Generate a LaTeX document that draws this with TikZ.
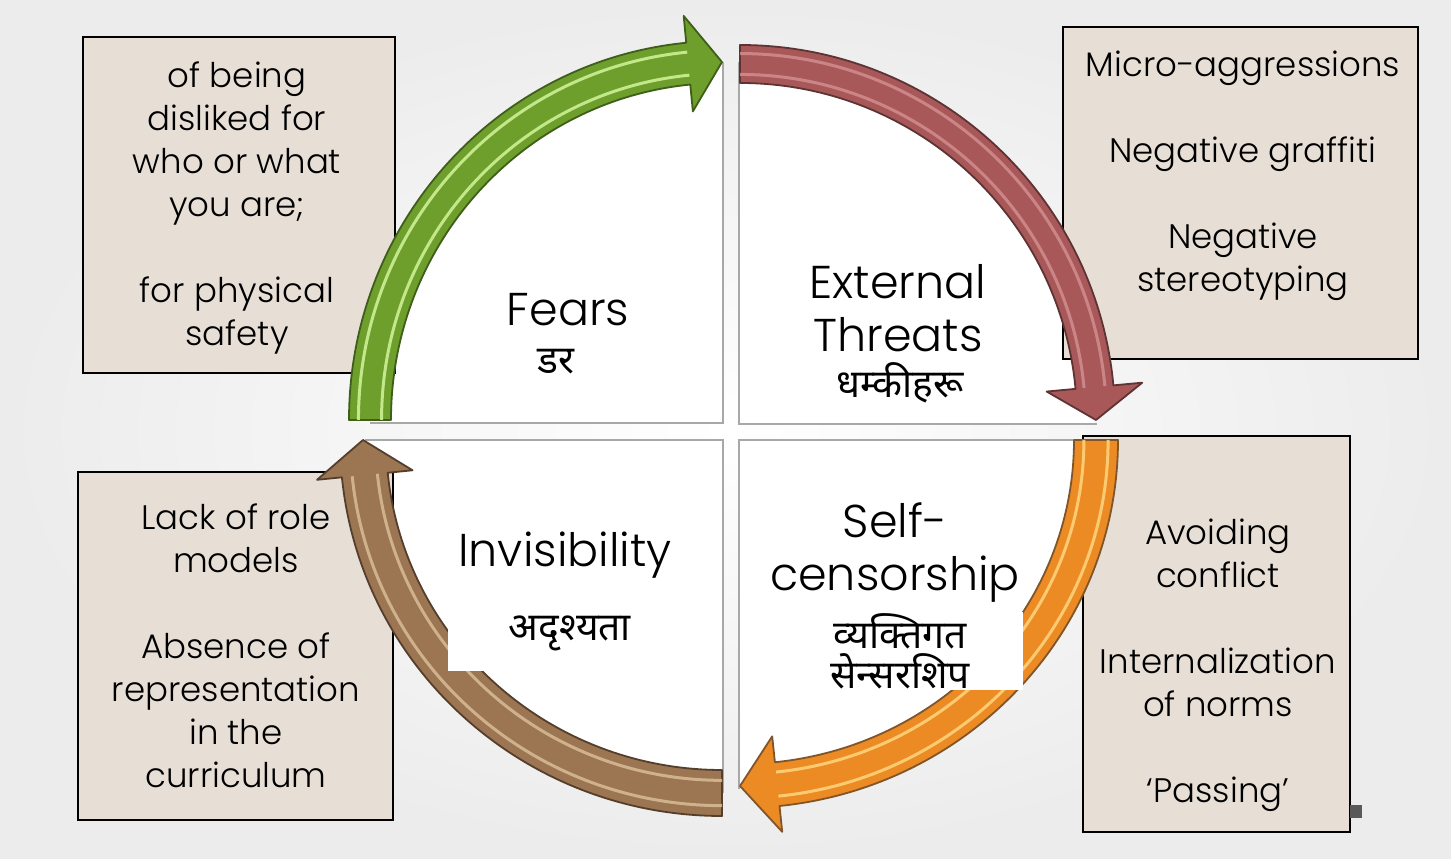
\documentclass[tikz,border=0pt]{standalone}
\usepackage{fontspec}
\IfFontExistsTF{Poppins Light}{\setmainfont{Poppins Light}}{\setmainfont{Poppins}}
\newfontfamily\dev[Script=Devanagari]{Noto Sans}
\definecolor{boxfill}{HTML}{E7DFD6}
\definecolor{quadline}{HTML}{A8A8A8}
\definecolor{Gmain}{HTML}{6E9E2C}
\definecolor{Gdark}{HTML}{3F5E1A}
\definecolor{Glight}{HTML}{D2F59A}
\definecolor{Rmain}{HTML}{A9585A}
\definecolor{Rdark}{HTML}{5E3333}
\definecolor{Rlight}{HTML}{D38E8E}
\definecolor{Omain}{HTML}{EC8A24}
\definecolor{Odark}{HTML}{80552A}
\definecolor{Olight}{HTML}{FFD67E}
\definecolor{Bmain}{HTML}{9C7552}
\definecolor{Bdark}{HTML}{553F2C}
\definecolor{Blight}{HTML}{D9BC97}
\tikzset{
  quadline/.style={draw=quadline, line width=2.5pt},
  infobox/.style={fill=boxfill, draw=black, line width=1.6pt},
  boxtext/.style={align=center, font=\fontsize{34}{43}\selectfont, inner sep=0pt},
  bigtext/.style={align=center, font=\fontsize{46}{53}\selectfont, inner sep=0pt},
  devtext/.style={align=center, font=\dev\fontsize{39}{40}\selectfont, inner sep=0pt},
  patch/.style={fill=white, draw=none},
}
% #1 cx, #2 cy, #3 a, #4 b, #5 half width, #6 start angle, #7 head angle, #8 tip angle, #9 colour prefix
\newcommand\RingArrow[9]{%
  \pgfmathsetmacro\ao{#3+#5}\pgfmathsetmacro\bo{#4+#5}%
  \pgfmathsetmacro\ai{#3-#5}\pgfmathsetmacro\bi{#4-#5}%
  \pgfmathsetmacro\aho{#3+48}\pgfmathsetmacro\bho{#4+48}%
  \pgfmathsetmacro\ahi{#3-48}\pgfmathsetmacro\bhi{#4-48}%
  \pgfmathsetmacro\ahl{#3+0.55*#5}\pgfmathsetmacro\bhl{#4+0.55*#5}%
  \pgfmathsetmacro\all{#3-0.55*#5}\pgfmathsetmacro\bll{#4-0.55*#5}%
  \filldraw[fill=#9main, draw=#9dark, line width=1.8pt, line join=round]
    ({#1+\ao*cos(#6)},{#2+\bo*sin(#6)})
      arc[start angle=#6, end angle=#7, x radius=\ao, y radius=\bo]
    -- ({#1+\aho*cos(#7)},{#2+\bho*sin(#7)})
    -- ({#1+#3*cos(#8)},{#2+#4*sin(#8)})
    -- ({#1+\ahi*cos(#7)},{#2+\bhi*sin(#7)})
    -- ({#1+\ai*cos(#7)},{#2+\bi*sin(#7)})
      arc[start angle=#7, end angle=#6, x radius=\ai, y radius=\bi]
    -- cycle;
  \draw[#9light, line width=3pt, opacity=0.85]
    ({#1+\ahl*cos(#6)},{#2+\bhl*sin(#6)})
      arc[start angle=#6, end angle=#7, x radius=\ahl, y radius=\bhl];
  \draw[#9light, line width=3pt, opacity=0.85]
    ({#1+\all*cos(#6)},{#2+\bll*sin(#6)})
      arc[start angle=#6, end angle=#7, x radius=\all, y radius=\bll];
}
% quarter pie: #1 cx, #2 cy, #3 a, #4 b, #5 start, #6 end
\newcommand\QuarterFill[6]{%
  \fill[white] (#1,#2) -- ({#1+#3*cos(#5)},{#2+#4*sin(#5)})
    arc[start angle=#5, end angle=#6, x radius=#3, y radius=#4] -- cycle;
}
\begin{document}
\begin{tikzpicture}[x=1pt, y=1pt]
\useasboundingbox (0,0) rectangle (1451,859);
% background
\shade[inner color=white, outer color=gray!15] (0,0) rectangle (1451,859);
% quadrants (white quarter regions, straight inner edges)
\QuarterFill{723}{436}{352}{358}{180}{90}
\QuarterFill{739}{435}{356}{356}{90}{0}
\QuarterFill{739}{419}{356}{346}{0}{-90}
\QuarterFill{723}{419}{359}{353}{-90}{-180}
\draw[quadline] (723,797) -- (723,436) -- (370,436);
\draw[quadline] (739,797) -- (739,435) -- (1097,435);
\draw[quadline] (739,70) -- (739,419) -- (1095,419);
\draw[quadline] (723,66) -- (723,419) -- (365,419);
% info boxes
\draw[infobox] (83,486) rectangle (395,822);
\draw[infobox] (1063,500) rectangle (1418,832);
\draw[infobox] (1083,27) rectangle (1350,423);
\draw[infobox] (78,39) rectangle (393,387);
\fill[gray!70!black] (1350,41) rectangle (1362,54);
% box texts
\node[boxtext] (tltext) at (237,651) {of being\\disliked for\\who or what\\you are;\\[43pt]for physical\\safety};
\node[boxtext] (trtext) at (1243,683) {Micro-aggressions\\[43pt]Negative graffiti\\[43pt]Negative\\stereotyping};
\node[boxtext] (brtext) at (1218,194) {Avoiding\\conflict\\[43pt]Internalization\\of norms\\[43pt]‘Passing’};
\node[boxtext] (bltext) at (236,213) {Lack of role\\models\\[43pt]Absence of\\representation\\in the\\curriculum};
% ring arrows
\RingArrow{722}{439}{352}{358}{21}{180}{95.5}{90}{G}
\RingArrow{740}{439}{356}{356}{19}{90}{5.3}{0}{R}
\RingArrow{740}{419}{356}{346}{22}{0}{-84}{-90}{O}
\RingArrow{722}{419}{359}{353}{23}{-90}{-174.3}{-180}{B}
% white patches behind Nepali labels
\fill[patch] (800,169) rectangle (1023,247);
\fill[patch] (448,188) rectangle (680,259);
% quadrant labels
\node[bigtext] (fears) at (568,549) {Fears};
\node[devtext] (fearsne) at (556,497) {डर};
\node[bigtext] (threats) at (898,551) {External\\Threats};
\node[devtext] (threatsne) at (900,476) {धम्कीहरू};
\node[bigtext] (selfc) at (895,306) {Self-\\censorship};
\node[devtext] (selfcne) at (900,208) {व्यक्तिगत\\सेन्सरशिप};
\node[bigtext] (invis) at (565,304) {Invisibility};
\node[devtext] (invisne) at (570,226) {अदृश्यता};
\end{tikzpicture}
\end{document}
